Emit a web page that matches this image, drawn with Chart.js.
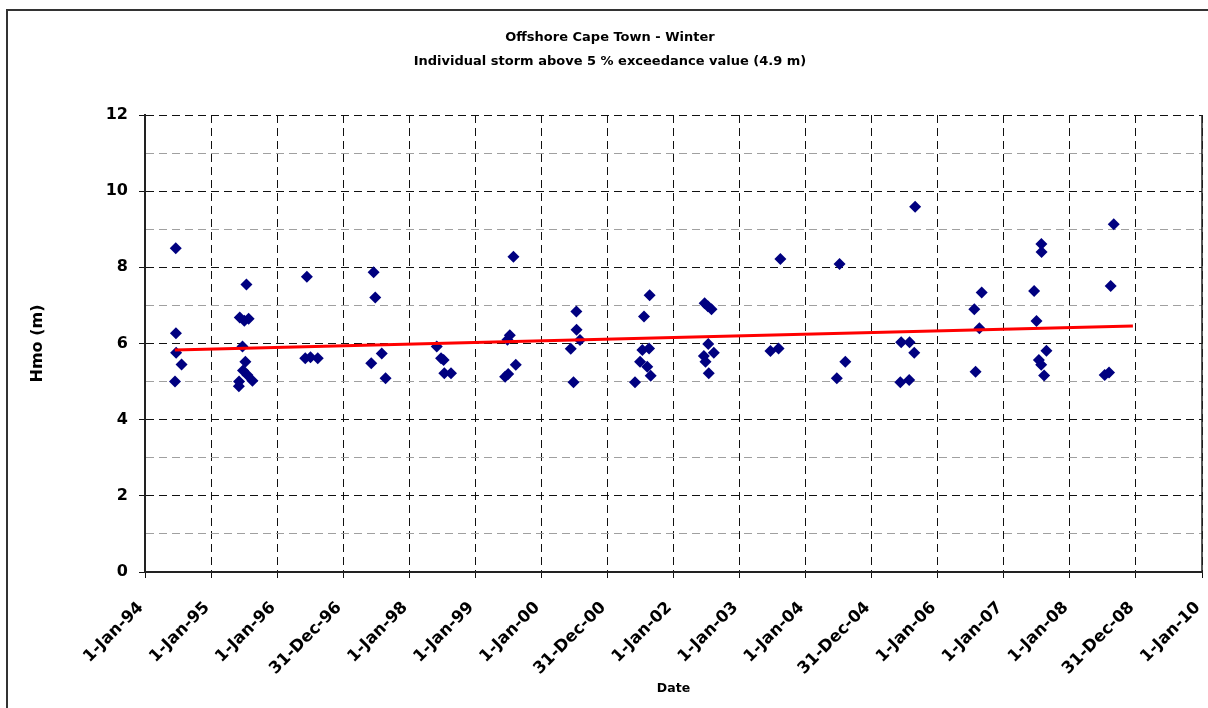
<!DOCTYPE html>
<html>
<head>
<meta charset="utf-8">
<script src="https://cdn.jsdelivr.net/npm/chart.js@4"></script>
<style>
  body { margin: 0; background: #fff; }
  #wrap { width: 1208px; height: 708px; }
</style>
</head>
<body>
<div id="wrap"><canvas id="chart" width="1208" height="708"></canvas></div>
<script>
// Storm peaks (winter)
var stormDates = [
    '1994-06-20', '1994-06-21', '1994-06-22', '1994-07-22', '1994-06-16',
    '1995-07-16', '1995-06-09', '1995-07-04', '1995-07-28', '1995-06-24', '1995-07-10',
    '1995-06-27', '1995-07-21', '1995-08-18', '1995-06-05', '1995-06-04',
    '1996-06-14', '1996-06-05', '1996-07-04', '1996-08-13',
    '1997-06-18', '1997-06-27', '1997-06-05', '1997-08-02', '1997-08-23',
    '1998-06-02', '1998-06-26', '1998-07-10', '1998-07-14', '1998-08-20',
    '1999-07-31', '1999-07-11', '1999-06-28', '1999-08-13', '1999-06-15', '1999-07-02',
    '2000-07-13', '2000-07-14', '2000-08-02', '2000-06-12', '2000-06-27',
    '2001-08-22', '2001-07-22', '2001-07-13', '2001-08-19', '2001-06-30', '2001-08-09', '2001-08-28', '2001-06-02',
    '2002-06-22', '2002-07-10', '2002-07-30', '2002-07-12', '2002-08-12', '2002-06-18', '2002-06-27', '2002-07-15',
    '2003-06-21', '2003-08-05', '2003-08-15',
    '2004-07-07', '2004-08-08', '2004-06-22',
    '2005-08-29', '2005-06-13', '2005-07-29', '2005-08-24', '2005-06-08', '2005-07-27',
    '2006-09-01', '2006-07-22', '2006-08-19', '2006-07-29',
    '2007-07-28', '2007-07-29', '2007-06-18', '2007-07-01', '2007-08-25', '2007-07-14', '2007-07-27', '2007-08-12',
    '2008-08-31', '2008-08-14', '2008-07-12', '2008-08-05'
];
var stormHmo = [
    8.50, 6.27, 5.76, 5.45, 5.00,
    7.55, 6.68, 6.60, 6.65, 5.92, 5.52,
    5.29, 5.17, 5.02, 5.00, 4.88,
    7.75, 5.61, 5.64, 5.61,
    7.87, 7.21, 5.48, 5.74, 5.09,
    5.92, 5.61, 5.57, 5.22, 5.22,
    8.28, 6.22, 6.10, 5.44, 5.13, 5.20,
    6.84, 6.36, 6.09, 5.86, 4.98,
    7.27, 6.71, 5.83, 5.87, 5.52, 5.39, 5.15, 4.98,
    7.06, 6.98, 6.90, 5.99, 5.76, 5.67, 5.52, 5.22,
    5.80, 5.87, 8.22,
    8.09, 5.52, 5.09,
    9.59, 6.03, 6.03, 5.76, 4.98, 5.04,
    7.34, 6.90, 6.40, 5.26,
    8.61, 8.40, 7.38, 6.59, 5.81, 5.57, 5.44, 5.16,
    9.13, 7.51, 5.17, 5.24
];

// Linear trend line end points
var trendDates = ['1994-06-15', '2008-12-15'];
var trendHmo = [5.83, 6.46];

// Axis labels (Excel steps of 365.25 days from 1-Jan-94)
var tickLabels = ['1-Jan-94', '1-Jan-95', '1-Jan-96', '31-Dec-96', '1-Jan-98', '1-Jan-99', '1-Jan-00',
    '31-Dec-00', '1-Jan-02', '1-Jan-03', '1-Jan-04', '31-Dec-04', '1-Jan-06', '1-Jan-07', '1-Jan-08',
    '31-Dec-08', '1-Jan-10'];
var yTicks = [0, 2, 4, 6, 8, 10, 12];

function toDay(s) {
    var p = s.split('-');
    return Date.UTC(+p[0], +p[1] - 1, +p[2]) / 86400000;
}

var xMin = toDay('1994-01-01');
var xStep = 365.25;
var xMax = xMin + xStep * (tickLabels.length - 1);

var stormPoints = stormDates.map(function (d, i) { return { x: toDay(d), y: stormHmo[i] }; });
var trendPoints = trendDates.map(function (d, i) { return { x: toDay(d), y: trendHmo[i] }; });

var FONT = "'DejaVu Sans', sans-serif";
Chart.defaults.color = '#000';
Chart.defaults.font.family = FONT;

// white page, outer frame and solid right edge of the plot
var framePlugin = {
    id: 'frame',
    beforeDraw: function (chart) {
        var c = chart.ctx;
        c.save();
        c.fillStyle = '#fff';
        c.fillRect(0, 0, chart.width, chart.height);
        c.restore();
    },
    afterDraw: function (chart) {
        var c = chart.ctx, a = chart.chartArea;
        c.save();
        c.strokeStyle = '#333';
        c.lineWidth = 2;
        c.strokeRect(7, 10, chart.width + 10, chart.height + 10);
        c.strokeStyle = '#222';
        c.lineWidth = 1.5;
        c.beginPath();
        c.moveTo(a.right, a.top);
        c.lineTo(a.right, a.bottom);
        c.stroke();
        c.restore();
    }
};

var ctx = document.getElementById('chart').getContext('2d');
var chart = new Chart(ctx, {
    type: 'scatter',
    data: {
        datasets: [{
            label: 'Trend',
            data: trendPoints,
            showLine: true,
            borderColor: '#ff0000',
            borderWidth: 3,
            pointRadius: 0,
            fill: false
        }, {
            label: 'Storms',
            data: stormPoints,
            pointStyle: 'rectRot',
            pointRadius: 6,
            pointBackgroundColor: '#000080',
            pointBorderWidth: 0,
            showLine: false
        }]
    },
    options: {
        responsive: false,
        animation: false,
        layout: { padding: { left: 16, right: 4, top: 0, bottom: 0 } },
        plugins: {
            legend: { display: false },
            tooltip: { enabled: false },
            title: {
                display: true,
                text: ['Offshore Cape Town - Winter', 'Individual storm above 5 % exceedance value (4.9 m)'],
                font: { family: FONT, size: 13, weight: 'bold', lineHeight: 1.808 },
                padding: { top: 26, bottom: 42 },
                color: '#000'
            }
        },
        scales: {
            x: {
                type: 'linear',
                min: xMin,
                max: xMax,
                afterBuildTicks: function (scale) {
                    scale.ticks = tickLabels.map(function (l, i) { return { value: xMin + i * xStep }; });
                },
                afterFit: function (scale) {
                    scale.height = 136;
                    scale.paddingLeft = 0;
                    scale.paddingRight = 0;
                },
                ticks: {
                    autoSkip: false,
                    minRotation: 45,
                    maxRotation: 45,
                    padding: 16,
                    font: { family: FONT, size: 16.5, weight: 'bold' },
                    callback: function (v, i) { return tickLabels[i] + ' '; }
                },
                grid: {
                    color: '#111',
                    lineWidth: 1,
                    tickLength: 6,
                    tickColor: '#111'
                },
                border: { display: true, color: '#222', width: 2, dash: [8, 5] },
                title: {
                    display: true,
                    text: 'Date',
                    font: { family: FONT, size: 12.5, weight: 'bold' },
                    padding: { top: 0, bottom: 12 }
                }
            },
            y: {
                min: 0,
                max: 12,
                afterBuildTicks: function (scale) {
                    var t = [];
                    for (var v = 0; v <= 12; v++) t.push({ value: v });
                    scale.ticks = t;
                },
                afterFit: function (scale) {
                    scale.width = 129;
                    scale.paddingTop = 0;
                    scale.paddingBottom = 0;
                },
                ticks: {
                    padding: 11,
                    font: { family: FONT, size: 16, weight: 'bold' },
                    callback: function (v) { return yTicks.indexOf(v) >= 0 ? v : ''; }
                },
                grid: {
                    color: function (c) { return c.tick && yTicks.indexOf(c.tick.value) >= 0 ? '#111' : '#a0a0a0'; },
                    lineWidth: 1,
                    tickLength: 6,
                    tickColor: function (c) { return c.tick && yTicks.indexOf(c.tick.value) >= 0 ? '#111' : 'rgba(0,0,0,0)'; }
                },
                border: { display: true, color: '#222', width: 2, dash: [8, 5] },
                title: {
                    display: true,
                    text: 'Hmo (m)',
                    font: { family: FONT, size: 16, weight: 'bold' },
                    padding: { top: 12, bottom: 0 }
                }
            }
        }
    },
    plugins: [framePlugin]
});
</script>
</body>
</html>
